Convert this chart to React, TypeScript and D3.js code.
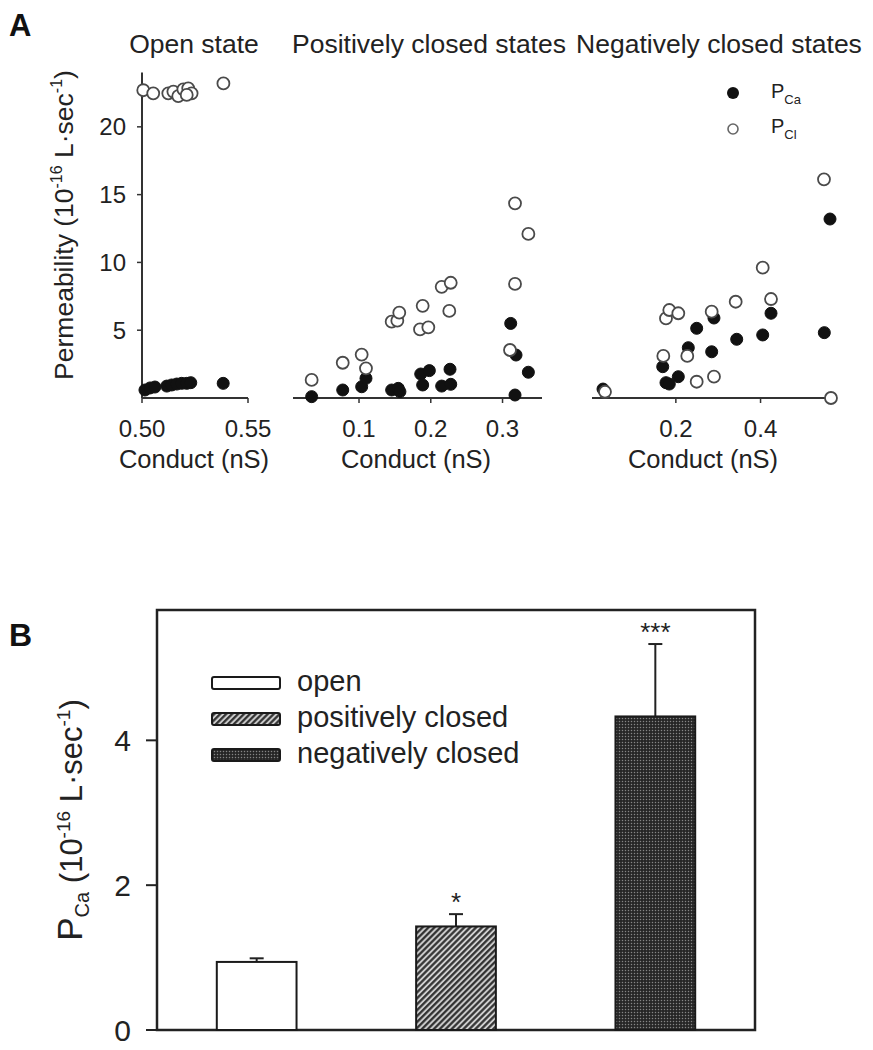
import React from "react";
import * as d3 from "d3";

// ---------- Panel A data ----------
const openCaCond = [0.5014, 0.5038, 0.5061, 0.5117, 0.514, 0.5164, 0.5187, 0.5211, 0.523, 0.5383];
const openCaPerm = [0.59, 0.74, 0.81, 0.88, 0.96, 1.03, 1.08, 1.08, 1.13, 1.08];
const openClCond = [0.5006, 0.5053, 0.5124, 0.5148, 0.5171, 0.5195, 0.5218, 0.5234, 0.5211, 0.5384];
const openClPerm = [22.7, 22.47, 22.47, 22.6, 22.27, 22.77, 22.84, 22.47, 22.35, 23.2];

const posCaCond = [0.034, 0.0773, 0.1037, 0.1097, 0.1455, 0.1547, 0.157, 0.186, 0.198, 0.1887, 0.2268, 0.2152, 0.2278, 0.3114, 0.3188, 0.336, 0.3174];
const posCaPerm = [0.1, 0.59, 0.83, 1.45, 0.59, 0.71, 0.47, 1.77, 2.02, 0.96, 2.12, 0.88, 1.01, 5.5, 3.17, 1.9, 0.22];
const posClCond = [0.034, 0.0773, 0.1037, 0.1097, 0.1455, 0.1534, 0.1561, 0.1887, 0.185, 0.1966, 0.2152, 0.2278, 0.2258, 0.3174, 0.336, 0.3174, 0.3104];
const posClPerm = [1.33, 2.6, 3.2, 2.19, 5.63, 5.7, 6.29, 6.8, 5.06, 5.21, 8.2, 8.5, 6.42, 14.36, 12.1, 8.41, 3.54];

const negCaCond = [0.028, 0.169, 0.1767, 0.1845, 0.2058, 0.2294, 0.2492, 0.2846, 0.29, 0.3437, 0.4051, 0.4247, 0.564, 0.5506];
const negCaPerm = [0.66, 2.31, 1.13, 1.03, 1.57, 3.71, 5.14, 3.41, 5.9, 4.33, 4.65, 6.25, 13.2, 4.82];
const negClCond = [0.0327, 0.1704, 0.1767, 0.1845, 0.2058, 0.227, 0.2492, 0.2846, 0.29, 0.3413, 0.4051, 0.4247, 0.5498, 0.5663];
const negClPerm = [0.46, 3.1, 5.87, 6.49, 6.25, 3.1, 1.2, 6.37, 1.57, 7.1, 9.61, 7.3, 16.13, 0];

const panelTitles = ["Open state", "Positively closed states", "Negatively closed states"];
const permTicks = [5, 10, 15, 20];
const openTicks = [0.5, 0.55];
const posTicks = [0.1, 0.2, 0.3];
const negTicks = [0.2, 0.4];

// ---------- Panel B data ----------
const barCats = ["open", "positively closed", "negatively closed"];
const barMeans = [0.94, 1.43, 4.33];
const barErrs = [0.05, 0.17, 1.0];
const barStars = ["", "*", "***"];
const pcaTicks = [0, 2, 4];

const FONT = "'Liberation Sans', Arial, Helvetica, sans-serif";

function Dots({ xs, ys, x, y, filled }) {
  return (
    <g>
      {xs.map((v, i) => (
        <circle
          key={i}
          cx={x(v)}
          cy={y(ys[i])}
          r={6}
          fill={filled ? "#111" : "#fff"}
          stroke={filled ? "#111" : "#4a4a4a"}
          strokeWidth={filled ? 1 : 1.8}
        />
      ))}
    </g>
  );
}

function XAxis({ x, ticks, fmt, y0, titleX }) {
  const [a, b] = x.range();
  return (
    <g>
      <line x1={a} x2={b} y1={y0} y2={y0} stroke="#333" strokeWidth={2} />
      {ticks.map((t) => (
        <g key={t}>
          <line x1={x(t)} x2={x(t)} y1={y0} y2={y0 + 5} stroke="#333" strokeWidth={1.5} />
          <text x={x(t)} y={437} textAnchor="middle" fontSize={24} fill="#222">
            {fmt(t)}
          </text>
        </g>
      ))}
      <text x={titleX} y={468} textAnchor="middle" fontSize={25.5} fill="#222">
        Conduct (nS)
      </text>
    </g>
  );
}

export default function App() {
  // Panel A scales
  const yA = d3.scaleLinear().domain([0, 24]).range([398, 72.6]);
  const xOpen = d3.scaleLinear().domain([0.5, 0.55]).range([142, 248]);
  const xPos = d3.scaleLinear().domain([0.008, 0.355]).range([293, 542]);
  const xNeg = d3.scaleLinear().domain([0.002, 0.564]).range([592, 830]);

  // Panel B scales
  const yB = d3.scaleLinear().domain([0, 5.8]).range([1030, 610]);
  const xB = d3.scaleBand().domain(barCats).range([157, 755]).paddingInner(0.6).paddingOuter(0.3);
  const barFills = ["#fff", "url(#hatch)", "url(#dots)"];

  return (
    <svg
      width={873}
      height={1050}
      style={{ position: "absolute", left: 0, top: 0, background: "#fff" }}
      fontFamily={FONT}
    >
      <defs>
        <pattern id="hatch" width={4.2} height={4.2} patternUnits="userSpaceOnUse" patternTransform="rotate(45)">
          <rect width={4.2} height={4.2} fill="#cfcfcf" />
          <line x1={1.2} x2={1.2} y1={0} y2={4.2} stroke="#2e2e2e" strokeWidth={2.2} />
        </pattern>
        <pattern id="dots" width={3} height={3} patternUnits="userSpaceOnUse">
          <rect width={3} height={3} fill="#262626" />
          <circle cx={1.5} cy={1.5} r={0.75} fill="#858585" />
        </pattern>
      </defs>

      {/* ===== Panel A ===== */}
      <text x={9} y={36} fontSize={31} fontWeight="bold" fill="#111">
        A
      </text>
      {panelTitles.map((t, i) => (
        <text key={t} x={[194, 429, 719][i]} y={53} textAnchor="middle" fontSize={26.5} fill="#222">
          {t}
        </text>
      ))}

      {/* y axis */}
      <line x1={142} x2={142} y1={yA(24)} y2={yA(0)} stroke="#333" strokeWidth={2} />
      {permTicks.map((t) => (
        <g key={t}>
          <line x1={137} x2={142} y1={yA(t)} y2={yA(t)} stroke="#333" strokeWidth={1.5} />
          <text x={126} y={yA(t) + 8.5} textAnchor="end" fontSize={24} fill="#222">
            {t}
          </text>
        </g>
      ))}
      <text transform="translate(73,225) rotate(-90)" textAnchor="middle" fontSize={26.5} fill="#222">
        Permeability (10
        <tspan fontSize={16} dy={-11}>-16</tspan>
        <tspan dy={11}> L·sec</tspan>
        <tspan fontSize={16} dy={-11}>-1</tspan>
        <tspan dy={11}>)</tspan>
      </text>

      <XAxis x={xOpen} ticks={openTicks} fmt={d3.format(".2f")} y0={398} titleX={194} />
      <XAxis x={xPos} ticks={posTicks} fmt={d3.format(".1f")} y0={398} titleX={416} />
      <XAxis x={xNeg} ticks={negTicks} fmt={d3.format(".1f")} y0={398} titleX={703} />

      <Dots xs={openCaCond} ys={openCaPerm} x={xOpen} y={yA} filled />
      <Dots xs={openClCond} ys={openClPerm} x={xOpen} y={yA} filled={false} />
      <Dots xs={posCaCond} ys={posCaPerm} x={xPos} y={yA} filled />
      <Dots xs={posClCond} ys={posClPerm} x={xPos} y={yA} filled={false} />
      <Dots xs={negCaCond} ys={negCaPerm} x={xNeg} y={yA} filled />
      <Dots xs={negClCond} ys={negClPerm} x={xNeg} y={yA} filled={false} />

      {/* legend A */}
      <circle cx={733} cy={93} r={6} fill="#111" />
      <circle cx={733} cy={129} r={5} fill="#fff" stroke="#666" strokeWidth={1.6} />
      <text x={771} y={98} fontSize={20} fill="#222">
        P<tspan fontSize={13} dy={6}>Ca</tspan>
      </text>
      <text x={771} y={133} fontSize={20} fill="#222">
        P<tspan fontSize={13} dy={6}>Cl</tspan>
      </text>

      {/* ===== Panel B ===== */}
      <text x={9} y={646} fontSize={32} fontWeight="bold" fill="#111">
        B
      </text>
      <rect x={157} y={610} width={598} height={420} fill="none" stroke="#222" strokeWidth={2.5} />
      {pcaTicks.map((t) => (
        <g key={t}>
          <line x1={146} x2={157} y1={yB(t)} y2={yB(t)} stroke="#222" strokeWidth={2} />
          <text x={131} y={yB(t) + 10.5} textAnchor="end" fontSize={30} fill="#222">
            {t}
          </text>
        </g>
      ))}
      <text transform="translate(82,820) rotate(-90)" textAnchor="middle" fontSize={31} fill="#222">
        <tspan fontSize={35}>P</tspan>
        <tspan fontSize={20} dy={7}>Ca</tspan>
        <tspan dy={-7}> (10</tspan>
        <tspan fontSize={19} dy={-12}>-16</tspan>
        <tspan dy={12}> L·sec</tspan>
        <tspan fontSize={19} dy={-12}>-1</tspan>
        <tspan dy={12}>)</tspan>
      </text>

      {barCats.map((c, i) => {
        const x0 = xB(c);
        const w = xB.bandwidth();
        const cx = x0 + w / 2;
        const top = yB(barMeans[i]);
        const errTop = yB(barMeans[i] + barErrs[i]);
        return (
          <g key={c}>
            <line x1={cx} x2={cx} y1={top} y2={errTop} stroke="#222" strokeWidth={2} />
            <line x1={cx - 7} x2={cx + 7} y1={errTop} y2={errTop} stroke="#222" strokeWidth={2} />
            <rect x={x0} y={top} width={w} height={yB(0) - top} fill={barFills[i]} stroke="#1a1a1a" strokeWidth={2} />
            {barStars[i] && (
              <text x={cx} y={errTop - 3} textAnchor="middle" fontSize={26} fill="#222">
                {barStars[i]}
              </text>
            )}
          </g>
        );
      })}

      {/* legend B */}
      {barCats.map((c, i) => (
        <g key={c}>
          <rect x={212} y={677 + i * 36} width={68} height={12} rx={2} fill={barFills[i]} stroke="#1a1a1a" strokeWidth={2} />
          <text x={297} y={691 + i * 36} fontSize={29} fill="#222">
            {c}
          </text>
        </g>
      ))}
    </svg>
  );
}
